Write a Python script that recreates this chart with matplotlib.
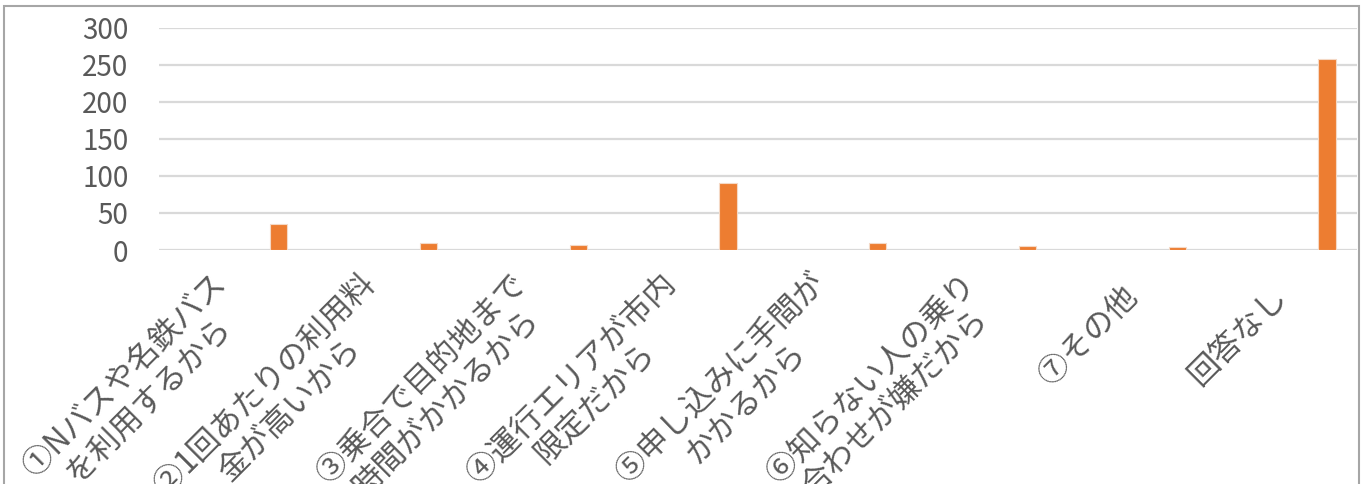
import matplotlib.pyplot as plt
from matplotlib.patches import Rectangle

plt.rcParams['font.family'] = ['Noto Sans CJK JP', 'DejaVu Sans']

categories = [
    '①Nバスや名鉄バス\nを利用するから',
    '②1回あたりの利用料\n金が高いから',
    '③乗合で目的地まで\n時間がかかるから',
    '④運行エリアが市内\n限定だから',
    '⑤申し込みに手間が\nかかるから',
    '⑥知らない人の乗り\n合わせが嫌だから',
    '⑦その他',
    '回答なし',
]
values = [35, 10, 7, 91, 9, 5, 4, 258]
yticks = [0, 50, 100, 150, 200, 250, 300]

fig = plt.figure(figsize=(13.65, 4.84), dpi=100)
ax = fig.add_axes([159 / 1365, 1 - 250 / 484, (1357 - 159) / 1365, (250 - 28) / 484])

# chart border (bottom edge is cut off in the reference)
fig.patches.append(Rectangle((4 / 1365, -0.2), (1359 - 4) / 1365, 1.2 - 6 / 484,
                             transform=fig.transFigure, fill=False,
                             edgecolor='#a6a6a6', linewidth=1.5))

x = list(range(len(categories)))
ax.bar([i + 0.3 for i in x], values, width=0.116, color='#ED7D31',
       edgecolor='#f4d9c6', linewidth=0.8, zorder=3)

ax.set_xlim(-0.5, len(categories) - 0.5)
ax.set_ylim(0, 300)
ax.set_yticks(yticks)
ax.yaxis.grid(True, color='#d9d9d9', linewidth=1.6, zorder=0)
ax.set_axisbelow(True)
for s in ax.spines.values():
    s.set_visible(False)

ax.tick_params(axis='y', length=0, pad=22, labelsize=20, labelcolor='#595959')
ax.tick_params(axis='x', length=0, pad=30, labelsize=22.5, labelcolor='#595959')
ax.set_xticks(x)
ax.set_xticklabels(categories, rotation=45, ha='right', va='center',
                   rotation_mode='anchor', multialignment='center',
                   linespacing=1.1)

fig.savefig('out.png', dpi=100)
